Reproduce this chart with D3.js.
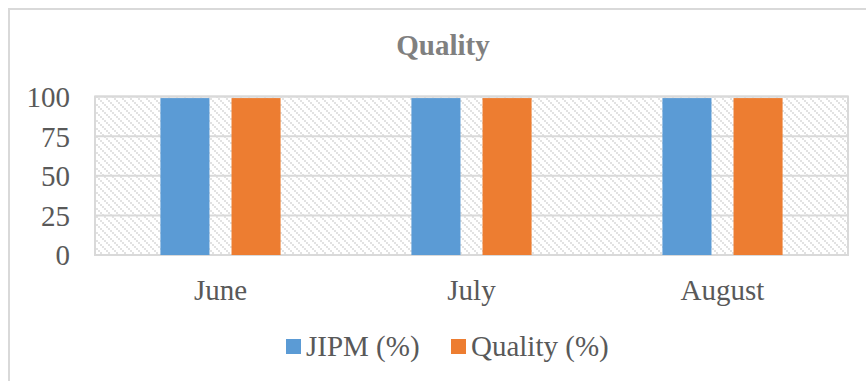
<!DOCTYPE html>
<html>
<head>
<meta charset="utf-8">
<script src="https://cdn.jsdelivr.net/npm/d3@7"></script>
<style>
  html, body { margin: 0; padding: 0; background: #ffffff; }
  svg { display: block; }
</style>
</head>
<body>
<svg id="chart" width="866" height="381"></svg>
<script>
const categories = ["June", "July", "August"];
const seriesNames = ["JIPM (%)", "Quality (%)"];
const jipmValues = [99, 99, 99];
const qualityValues = [99, 99, 99];
const yTicks = [0, 25, 50, 75, 100];
const titleText = "Quality";

const colors = ["#5B9BD5", "#ED7D31"];
const seriesValues = [jipmValues, qualityValues];

const svg = d3.select("#chart");
const W = 866, H = 381;
const font = "'Liberation Serif', 'Times New Roman', serif";
const fs = 29;

// outer chart border (extends past right/bottom edge)
svg.append("rect")
  .attr("x", 9).attr("y", 9)
  .attr("width", W + 10).attr("height", H + 10)
  .attr("fill", "#ffffff")
  .attr("stroke", "#d9d9d9").attr("stroke-width", 2);

const plot = { left: 95, right: 848, top: 96.5, bottom: 255 };

// hatch pattern
const defs = svg.append("defs");
const pat = defs.append("pattern")
  .attr("id", "hatch")
  .attr("patternUnits", "userSpaceOnUse")
  .attr("width", 8).attr("height", 8);
pat.append("rect").attr("width", 8).attr("height", 8).attr("fill", "#ffffff");
[[0,0],[2,2],[4,4],[6,6]].forEach(([a,b]) => {
  pat.append("rect").attr("x", a).attr("y", b).attr("width", 2).attr("height", 2).attr("fill", "#e2e2e2");
});

const x0 = d3.scaleBand().domain(categories).range([plot.left, plot.right]).padding(0);
const x1 = d3.scaleBand().domain(seriesNames).range([0, x0.bandwidth()])
  .paddingInner(0.31).paddingOuter(0.92);
const y = d3.scaleLinear().domain([0, 100]).range([plot.bottom, plot.top]);

// plot background
svg.append("rect")
  .attr("x", plot.left).attr("y", plot.top)
  .attr("width", plot.right - plot.left).attr("height", plot.bottom - plot.top)
  .attr("fill", "url(#hatch)")
  .attr("stroke", "#d9d9d9").attr("stroke-width", 2);

// gridlines
svg.append("g").selectAll("line").data(yTicks).join("line")
  .attr("x1", plot.left).attr("x2", plot.right)
  .attr("y1", d => y(d)).attr("y2", d => y(d))
  .attr("stroke", "#d9d9d9").attr("stroke-width", 2);

// y axis labels
const yAxis = d3.axisLeft(y).tickValues(yTicks).tickSize(0).tickPadding(0);
const yg = svg.append("g").attr("transform", `translate(${70},0)`).call(yAxis);
yg.select(".domain").remove();
yg.selectAll("text")
  .attr("font-family", font).attr("font-size", fs).attr("fill", "#595959")
  .attr("dy", "0.34em");

// bars
const groups = svg.append("g").selectAll("g").data(categories).join("g")
  .attr("transform", d => `translate(${x0(d)},0)`);
groups.selectAll("rect")
  .data((c, i) => seriesNames.map((s, j) => ({ s, v: seriesValues[j][i], j })))
  .join("rect")
  .attr("x", d => x1(d.s))
  .attr("width", x1.bandwidth())
  .attr("y", d => y(d.v))
  .attr("height", d => y(0) - y(d.v))
  .attr("fill", d => colors[d.j]);

// x axis labels
const xAxis = d3.axisBottom(x0).tickSize(0).tickPadding(0);
const xg = svg.append("g").attr("transform", `translate(0,${300})`).call(xAxis);
xg.select(".domain").remove();
xg.selectAll("text")
  .attr("font-family", font).attr("font-size", fs).attr("fill", "#595959")
  .attr("dy", 0).attr("y", 0);

// title
svg.append("text")
  .attr("x", 443).attr("y", 55)
  .attr("text-anchor", "middle")
  .attr("font-family", font).attr("font-size", fs).attr("font-weight", "bold")
  .attr("fill", "#808080")
  .text(titleText);

// legend
const legendItems = [
  { name: seriesNames[0], color: colors[0], x: 286 },
  { name: seriesNames[1], color: colors[1], x: 451 }
];
const lg = svg.append("g").selectAll("g").data(legendItems).join("g")
  .attr("transform", d => `translate(${d.x},0)`);
lg.append("rect").attr("x", 0).attr("y", 339).attr("width", 15).attr("height", 15)
  .attr("fill", d => d.color);
lg.append("text").attr("x", 20).attr("y", 356)
  .attr("font-family", font).attr("font-size", fs).attr("fill", "#595959")
  .text(d => d.name);
</script>
</body>
</html>
